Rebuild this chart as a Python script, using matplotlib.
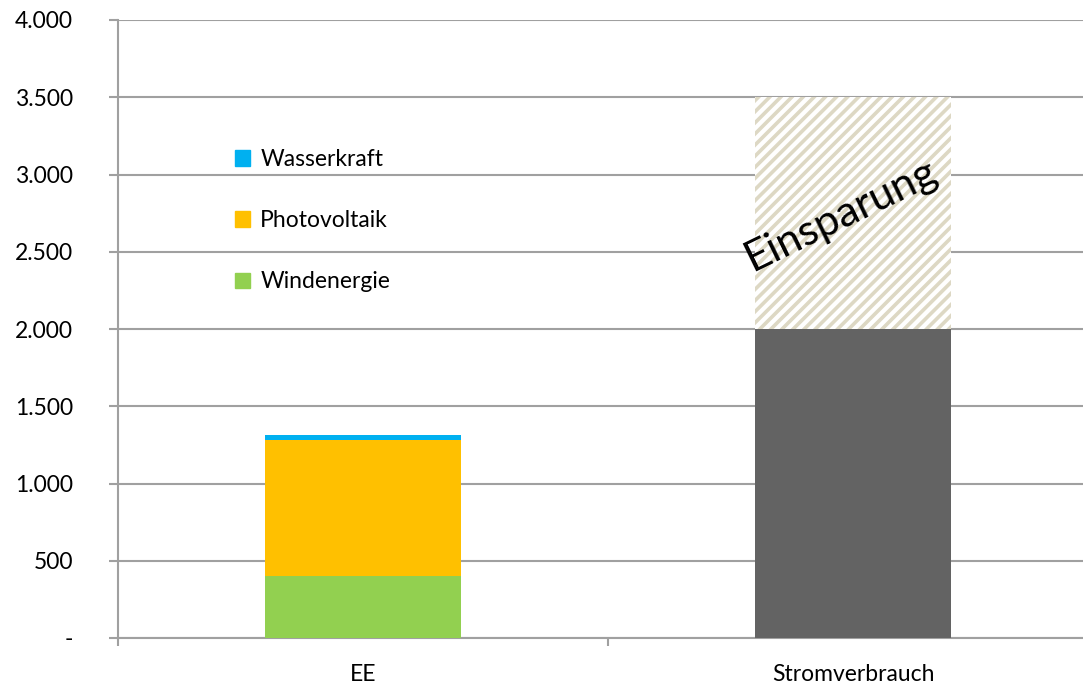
import matplotlib
matplotlib.use("Agg")
import matplotlib.pyplot as plt
from matplotlib.patches import Patch

plt.rcParams['font.family'] = ['Lato', 'DejaVu Sans']
plt.rcParams['hatch.linewidth'] = 2.6

categories = ["EE", "Stromverbrauch"]
wind = [400, 0]
pv = [880, 0]
wasser = [35, 0]
verbrauch = [0, 2000]
einsparung = [0, 1500]
yticks = [0, 500, 1000, 1500, 2000, 2500, 3000, 3500, 4000]
yticklabels = ["-", "500", "1.000", "1.500", "2.000", "2.500", "3.000", "3.500", "4.000"]

c_wind = "#92D050"
c_pv = "#FFC000"
c_wasser = "#00B0F0"
c_verb = "#636363"
c_hatch = "#DDD8C4"
grid_c = "#A0A0A0"

fig = plt.figure(figsize=(10.83, 6.84), dpi=100)
ax = fig.add_axes([118/1083, 46/684, 980/1083, 618/684])

x = list(range(len(categories)))
w = 0.402
ax.bar(x, wind, w, color=c_wind, zorder=3)
b_pv = [a for a in wind]
ax.bar(x, pv, w, bottom=b_pv, color=c_pv, zorder=3)
b_ws = [a + b for a, b in zip(wind, pv)]
ax.bar(x, wasser, w, bottom=b_ws, color=c_wasser, zorder=3)
ax.bar(x, verbrauch, w, color=c_verb, zorder=3)
ax.bar(x, einsparung, w, bottom=verbrauch, facecolor="white", edgecolor=c_hatch,
       hatch="///", linewidth=0, zorder=3)

ax.text(1 - 0.025, 2740, "Einsparung", rotation=26,
        ha="center", va="center", fontsize=31, color="black", zorder=5)

ax.set_xlim(-0.5, 1.5)
ax.set_ylim(0, 4000)
ax.set_yticks(yticks)
ax.set_yticklabels(yticklabels, fontsize=16.5)
ax.yaxis.grid(True, color=grid_c, linewidth=1.5, zorder=0)
ax.tick_params(axis="y", length=6.5, width=1.5, color=grid_c, pad=26)
for lbl in ax.get_yticklabels():
    lbl.set_horizontalalignment("right")

ax.set_xticks([-0.5, 0.5, 1.5], minor=False)
ax.set_xticklabels(["", "", ""])
ax.tick_params(axis="x", length=6, width=1.5, color=grid_c)
ax.set_xticks(x, minor=True)
ax.set_xticklabels(categories, minor=True, fontsize=16.5)
ax.tick_params(axis="x", which="minor", length=0, pad=19)

for s in ["top", "right"]:
    ax.spines[s].set_visible(False)
for s in ["left", "bottom"]:
    ax.spines[s].set_color(grid_c)
    ax.spines[s].set_linewidth(1.5)

handles = [Patch(color=c_wasser, label="Wasserkraft"),
           Patch(color=c_pv, label="Photovoltaik"),
           Patch(color=c_wind, label="Windenergie")]
ax.legend(handles=handles, loc="upper left", bbox_to_anchor=(0.11, 0.806),
          frameon=False, fontsize=16.5, handlelength=0.65, handleheight=0.65,
          handletextpad=0.45, labelspacing=1.75, borderaxespad=0)

fig.savefig("out.png", dpi=100)
